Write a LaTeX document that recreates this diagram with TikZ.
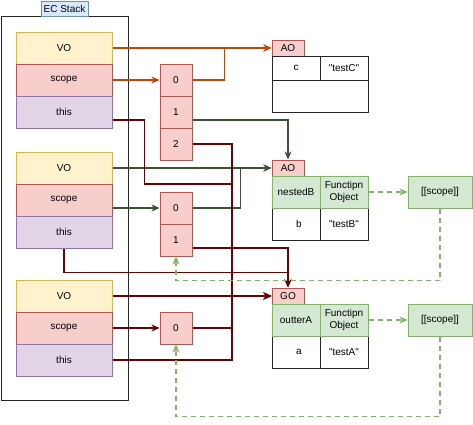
\documentclass[tikz,border=0pt]{standalone}
\usepackage{fontspec}
\setmainfont{Liberation Sans}[Ligatures=TeXOff]
\usetikzlibrary{arrows.meta,calc}
\definecolor{voF}{HTML}{FFF2CC}\definecolor{voD}{HTML}{D6B656}
\definecolor{scF}{HTML}{F8CECC}\definecolor{scD}{HTML}{B85450}
\definecolor{thF}{HTML}{E1D5E7}\definecolor{thD}{HTML}{9673A6}
\definecolor{grF}{HTML}{D5E8D4}\definecolor{grD}{HTML}{82B366}
\definecolor{blF}{HTML}{DAE8FC}\definecolor{blD}{HTML}{6C8EBF}
\definecolor{orL}{HTML}{CC4000}\definecolor{gnL}{HTML}{3A5431}\definecolor{rdL}{HTML}{700000}
\begin{document}
\begin{tikzpicture}[x=1pt,y=-1pt,font=\fontsize{10}{12}\selectfont,
  cell/.style 2 args={inner sep=0pt,minimum width=#1pt,minimum height=#2pt,line width=1pt,align=center},
  vobox/.style={cell={96}{32},draw=voD,fill=voF},
  scbox/.style={cell={96}{32},draw=scD,fill=scF},
  thbox/.style={cell={96}{32},draw=thD,fill=thF},
  arrbox/.style={cell={32}{32},draw=scD,fill=scF},
  lblbox/.style={cell={32}{16},draw=scD,fill=scF},
  wcell/.style={cell={48}{#1},draw=black!85,fill=white},
  gcell/.style={cell={48}{32},draw=grD,fill=grF},
  scopebox/.style={cell={64}{32},draw=grD,fill=grF},
  tip/.style={-{Stealth[length=8pt,width=7pt,inset=2.5pt]}},
  oarr/.style={tip,draw=orL,line width=1.5pt},
  garr/.style={tip,draw=gnL,line width=1.5pt},
  rarr/.style={tip,draw=rdL,line width=1.5pt},
  darr/.style={tip,draw=grD,line width=1.5pt,dash pattern=on 5pt off 4pt}]
\useasboundingbox (0,0) rectangle (473,424);
% EC stack
\node[cell={127}{384},draw=black!85] (stack) at (64.5,208) {};
\node[cell={47}{15},draw=blD,fill=blF] (eclabel) at (64.5,8.5) {EC Stack};
\node[vobox] (vo1) at (64,48) {VO};
\node[scbox] (scope1) at (64,80) {scope};
\node[thbox] (this1) at (64,112) {this};
\node[vobox] (vo2) at (64,168) {VO};
\node[scbox] (scope2) at (64,200) {scope};
\node[thbox] (this2) at (64,232) {this};
\node[vobox] (vo3) at (64,296) {VO};
\node[scbox] (scope3) at (64,328) {scope};
\node[thbox] (this3) at (64,360) {this};
% arrays
\node[arrbox] (a10) at (176,80) {0};
\node[arrbox] (a11) at (176,112) {1};
\node[arrbox] (a12) at (176,144) {2};
\node[arrbox] (a20) at (176,208) {0};
\node[arrbox] (a21) at (176,240) {1};
\node[arrbox] (a30) at (176,328) {0};
% AO 1
\node[lblbox] (ao1) at (288,48) {AO};
\node[wcell=24] (c1) at (296,68) {c};
\node[wcell=24] (v1) at (344,68) {"testC"};
\node[cell={96}{32},draw=black!85,fill=white] (e1) at (320,96) {};
% AO 2
\node[lblbox] (ao2) at (288,168) {AO};
\node[wcell=32] (b2) at (296,224) {\hspace{6pt}b};
\node[wcell=32] (tb) at (344,224) {"testB"};
\node[gcell] (nb) at (296,192) {nestedB};
\node[gcell] (fo2) at (344,192) {Functipn\\Object};
\node[scopebox] (sc1) at (440,192) {[[scope]]};
% GO
\node[lblbox] (go) at (288,296) {GO};
\node[wcell=32] (a3) at (296,352) {\hspace{6pt}a};
\node[wcell=32] (ta) at (344,352) {"testA"};
\node[gcell] (oa) at (296,320) {outterA};
\node[gcell] (fo3) at (344,320) {Functipn\\Object};
\node[scopebox] (sc2) at (440,320) {[[scope]]};
% orange
\draw[oarr] (vo1.east) -- (ao1.west);
\draw[oarr] (scope1.east) -- (a10.west);
\draw[oarr] (a10.east) -- ++(32,0) |- (ao1.west);
% green
\draw[garr] ([yshift=-8pt]a11.east) -| (ao2.north);
\draw[garr] (vo2.east) -- (ao2.west);
\draw[garr] (scope2.east |- a20.west) -- (a20.west);
\draw[garr] (a20.east) -- ++(48,0) |- (ao2.west);
% red
\coordinate (jr) at (232,296);
\draw[rarr] ([yshift=-8pt]this1.east) -| ($(this1.east)+(32,72)$) -| (jr) -- (go.west);
\draw[rarr] (a12.east) -| (jr) -- (go.west);
\draw[rarr] (vo3.east) -- (go.west);
\draw[rarr] (scope3.east) -- (a30.west);
\draw[rarr] (a30.east) -| (jr) -- (go.west);
\draw[rarr] (this3.east) -| (jr) -- (go.west);
\draw[rarr] ([yshift=-8pt]a21.east) -| (go.north);
\draw[rarr] (this2.south) -- ++(0,24) -| (go.north);
% dashed
\draw[darr] (fo2.east) -- (sc1.west);
\draw[darr] (sc1.south) |- ($(a21.south)+(0,24)$) -- (a21.south);
\draw[darr] (fo3.east) -- (sc2.west);
\draw[darr] (sc2.south) |- ($(a30.south)+(0,72)$) -- (a30.south);
\end{tikzpicture}
\end{document}
